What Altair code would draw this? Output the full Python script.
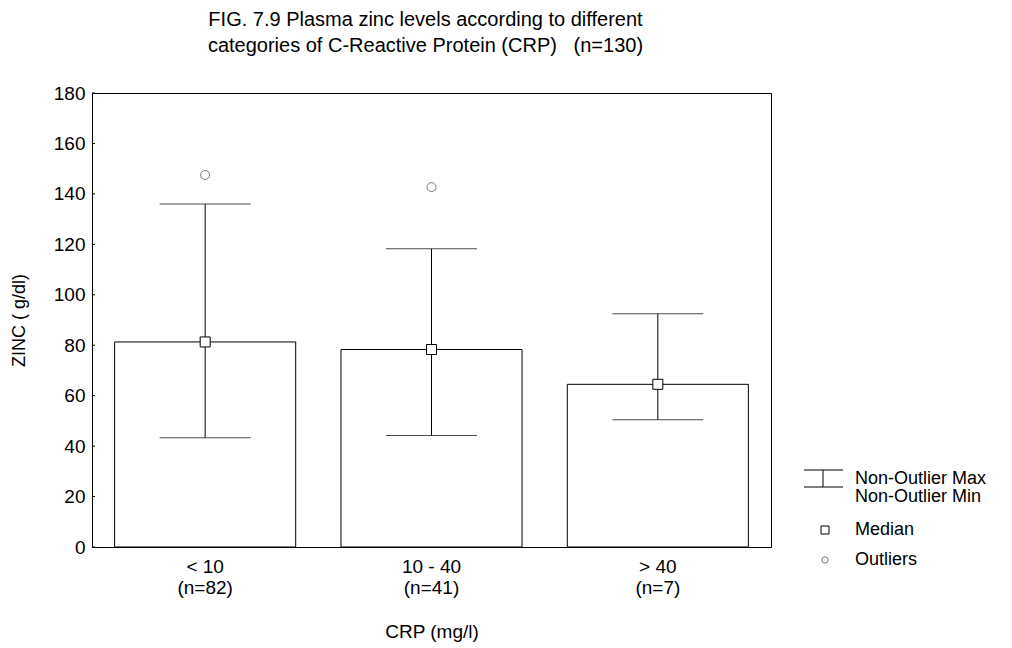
import altair as alt
import pandas as pd

# ---- data ----
categories = ["< 10", "10 - 40", "> 40"]
n_counts = [82, 41, 7]
medians = [81.3, 78.3, 64.5]
whisker_max = [136.0, 118.2, 92.5]
whisker_min = [43.3, 44.2, 50.5]
outlier_cats = ["< 10", "10 - 40"]
outlier_values = [147.5, 142.7]
y_ticks = [0, 20, 40, 60, 80, 100, 120, 140, 160, 180]
title_lines = ["FIG. 7.9 Plasma zinc levels according to different",
               "categories of C-Reactive Protein (CRP)\u00a0\u00a0\u00a0(n=130)"]
legend_labels = ["Non-Outlier Max", "Non-Outlier Min", "Median", "Outliers"]

FONT = "Liberation Sans"
W, H = 679, 454

labels = [f"{c}|(n={n})" for c, n in zip(categories, n_counts)]
df = pd.DataFrame({
    "cat": labels,
    "median": medians,
    "wmax": whisker_max,
    "wmin": whisker_min,
})
out_df = pd.DataFrame({
    "cat": [labels[categories.index(c)] for c in outlier_cats],
    "value": outlier_values,
})
tick_df = pd.DataFrame({"v": y_ticks})

xscale = alt.Scale(domain=labels, paddingInner=0.2, paddingOuter=0.1)
yscale = alt.Scale(domain=[0, 180], nice=False, zero=True)

x_enc = alt.X("cat:N", scale=xscale, sort=labels,
              axis=alt.Axis(title="CRP (mg/l)", labelAngle=0,
                            labelExpr="split(datum.label, '|')",
                            labelFontSize=19, labelLineHeight=21,
                            labelPadding=10, labelColor="black",
                            ticks=False, domain=False,
                            titleFontSize=19, titleFontWeight="normal",
                            titlePadding=25, titleColor="black",
                            labelFont=FONT, titleFont=FONT))
y_axis = alt.Axis(title="ZINC ( g/dl)", values=y_ticks, ticks=False,
                  domain=False, grid=False, labelFontSize=19,
                  labelPadding=7, labelColor="black",
                  titleFontSize=18, titleFontWeight="normal",
                  titlePadding=25, titleColor="black",
                  labelFont=FONT, titleFont=FONT)

base = alt.Chart(df)

bars = base.mark_bar(fill="white", stroke="black", strokeWidth=1).encode(
    x=x_enc,
    y=alt.Y("median:Q", scale=yscale, axis=y_axis),
)
stems = base.mark_rule(color="black", strokeWidth=1).encode(
    x=alt.X("cat:N", scale=xscale, sort=labels),
    y=alt.Y("wmin:Q", scale=yscale),
    y2="wmax:Q",
)
caps_max = base.mark_tick(color="black", size=91, thickness=1, orient="horizontal").encode(
    x=alt.X("cat:N", scale=xscale, sort=labels),
    y=alt.Y("wmax:Q", scale=yscale),
)
caps_min = base.mark_tick(color="black", size=91, thickness=1, orient="horizontal").encode(
    x=alt.X("cat:N", scale=xscale, sort=labels),
    y=alt.Y("wmin:Q", scale=yscale),
)
med_pts = base.mark_point(shape="square", size=100, filled=True, fill="white",
                          stroke="black", strokeWidth=1, opacity=1).encode(
    x=alt.X("cat:N", scale=xscale, sort=labels),
    y=alt.Y("median:Q", scale=yscale),
)
outs = alt.Chart(out_df).mark_point(shape="circle", size=80, fill="white", filled=True,
                                    stroke="#777777", strokeWidth=1, opacity=1).encode(
    x=alt.X("cat:N", scale=xscale, sort=labels),
    y=alt.Y("value:Q", scale=yscale),
)
inner_ticks = alt.Chart(tick_df).mark_rule(color="black", strokeWidth=1).encode(
    y=alt.Y("v:Q", scale=yscale),
    x=alt.value(0),
    x2=alt.value(3),
)

# ---- legend (drawn to the right of the plot area) ----
one = pd.DataFrame({"k": [0]})
leg_cap_top = alt.Chart(one).mark_rule(color="black", strokeWidth=1).encode(
    x=alt.value(712), x2=alt.value(751), y=alt.value(377))
leg_cap_bot = alt.Chart(one).mark_rule(color="black", strokeWidth=1).encode(
    x=alt.value(712), x2=alt.value(751), y=alt.value(394))
leg_stem = alt.Chart(one).mark_rule(color="black", strokeWidth=1).encode(
    x=alt.value(731), y=alt.value(377), y2=alt.value(394))
leg_sq = alt.Chart(one).mark_point(shape="square", size=64, fill="white", filled=True,
                                   stroke="black", strokeWidth=1, opacity=1).encode(
    x=alt.value(733), y=alt.value(437))
leg_circ = alt.Chart(one).mark_point(shape="circle", size=40, fill="white", filled=True,
                                     stroke="#777777", strokeWidth=1, opacity=1).encode(
    x=alt.value(733), y=alt.value(467))
leg_y = [386, 404, 437, 467]
leg_texts = [
    alt.Chart(pd.DataFrame({"t": [lab]})).mark_text(
        align="left", baseline="middle", font=FONT, fontSize=18, color="black"
    ).encode(x=alt.value(763), y=alt.value(yy), text="t:N")
    for lab, yy in zip(legend_labels, leg_y)
]

chart = alt.layer(
    bars, stems, caps_max, caps_min, med_pts, outs, inner_ticks,
    leg_cap_top, leg_cap_bot, leg_stem, leg_sq, leg_circ, *leg_texts
).properties(
    width=W, height=H,
    title=alt.TitleParams(text=title_lines, anchor="middle", fontSize=20,
                          lineHeight=26, font=FONT, fontWeight="normal",
                          color="black", offset=28, dx=-6),
    autosize=alt.AutoSizeParams(type="none"),
    padding={"left": 84, "top": 85, "right": 225, "bottom": 100},
).configure(
    font=FONT, background="white"
).configure_view(
    stroke="black", strokeWidth=1
)

chart.save("out.html", embed_options={"renderer": "svg", "actions": False})
